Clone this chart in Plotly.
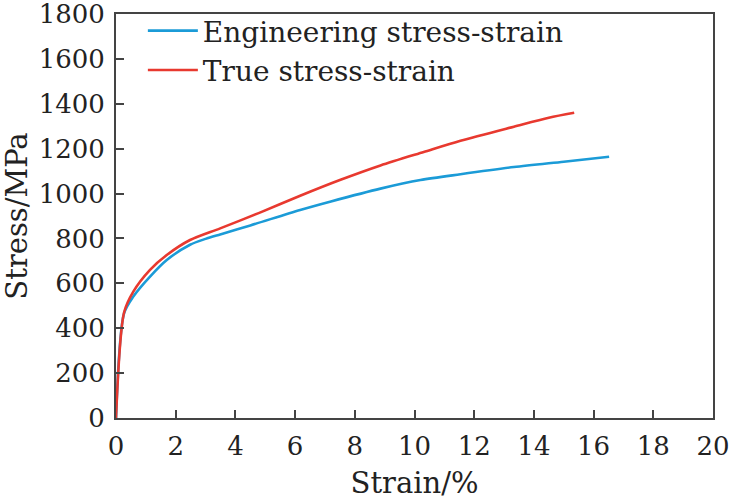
import plotly.graph_objects as go

# engineering stress-strain curve (strain %, stress MPa)
eng_strain = [0, 0.27, 0.58, 1.14, 1.7, 2.48, 3.0, 3.49, 4.5, 6.17, 7.2, 8.86, 10.2, 11.54, 13.33, 15.0, 16.52]
eng_stress = [0, 466, 541, 630, 704, 772, 798, 818, 858, 927, 965, 1022, 1060, 1086, 1118, 1142, 1164]

# true stress-strain curve
true_strain = [0, 0.27, 0.58, 1.14, 1.7, 2.48, 3.49, 4.8, 6.17, 7.5, 8.86, 10.31, 11.54, 13.33, 14.5, 15.35]
true_stress = [0, 470, 563, 660, 726, 793, 845, 914, 990, 1060, 1125, 1185, 1235, 1298, 1338, 1360]

x_ticks = list(range(0, 21, 2))
y_ticks = list(range(0, 1801, 200))

tick_font = dict(family="DejaVu Serif", size=26, color="#222")
title_font = dict(family="DejaVu Serif", size=29, color="#222")
legend_font = dict(family="DejaVu Serif", size=28, color="#222")


def main():
    fig = go.Figure()
    fig.add_trace(go.Scatter(x=eng_strain, y=eng_stress, mode="lines", name="Engineering stress-strain",
                             line=dict(color="#1b9bd7", width=2.6, shape="spline", smoothing=0.8)))
    fig.add_trace(go.Scatter(x=true_strain, y=true_stress, mode="lines", name="True stress-strain",
                             line=dict(color="#e8392f", width=2.6, shape="spline", smoothing=0.8)))

    axis = dict(showgrid=False, zeroline=False, showline=True, mirror=True, linecolor="#444", linewidth=2,
                ticks="inside", ticklen=8, tickwidth=1.5, tickcolor="#444", tickfont=tick_font,
                automargin=False, ticklabeloverflow="allow", ticklabelstandoff=4)
    fig.update_xaxes(range=[0, 20], tickvals=x_ticks,
                     title=dict(text="Strain/%", font=title_font, standoff=16), **axis)
    fig.update_yaxes(range=[0, 1800], tickvals=y_ticks,
                     title=dict(text="Stress/MPa", font=title_font, standoff=4), **axis)

    fig.update_layout(
        width=730, height=500,
        margin=dict(l=116, r=17, t=14, b=82, autoexpand=False),
        plot_bgcolor="white", paper_bgcolor="white",
        font=tick_font,
        showlegend=True,
        legend=dict(x=0.045, y=1.02, xanchor="left", yanchor="top", bgcolor="rgba(0,0,0,0)",
                    font=legend_font, tracegroupgap=0, itemwidth=50),
    )
    # drop the default page margin so the figure fills the window
    fig.write_html("out.html", config={"displayModeBar": False},
                   post_script="document.body.style.margin='0';")


if __name__ == '__main__':
    main()
